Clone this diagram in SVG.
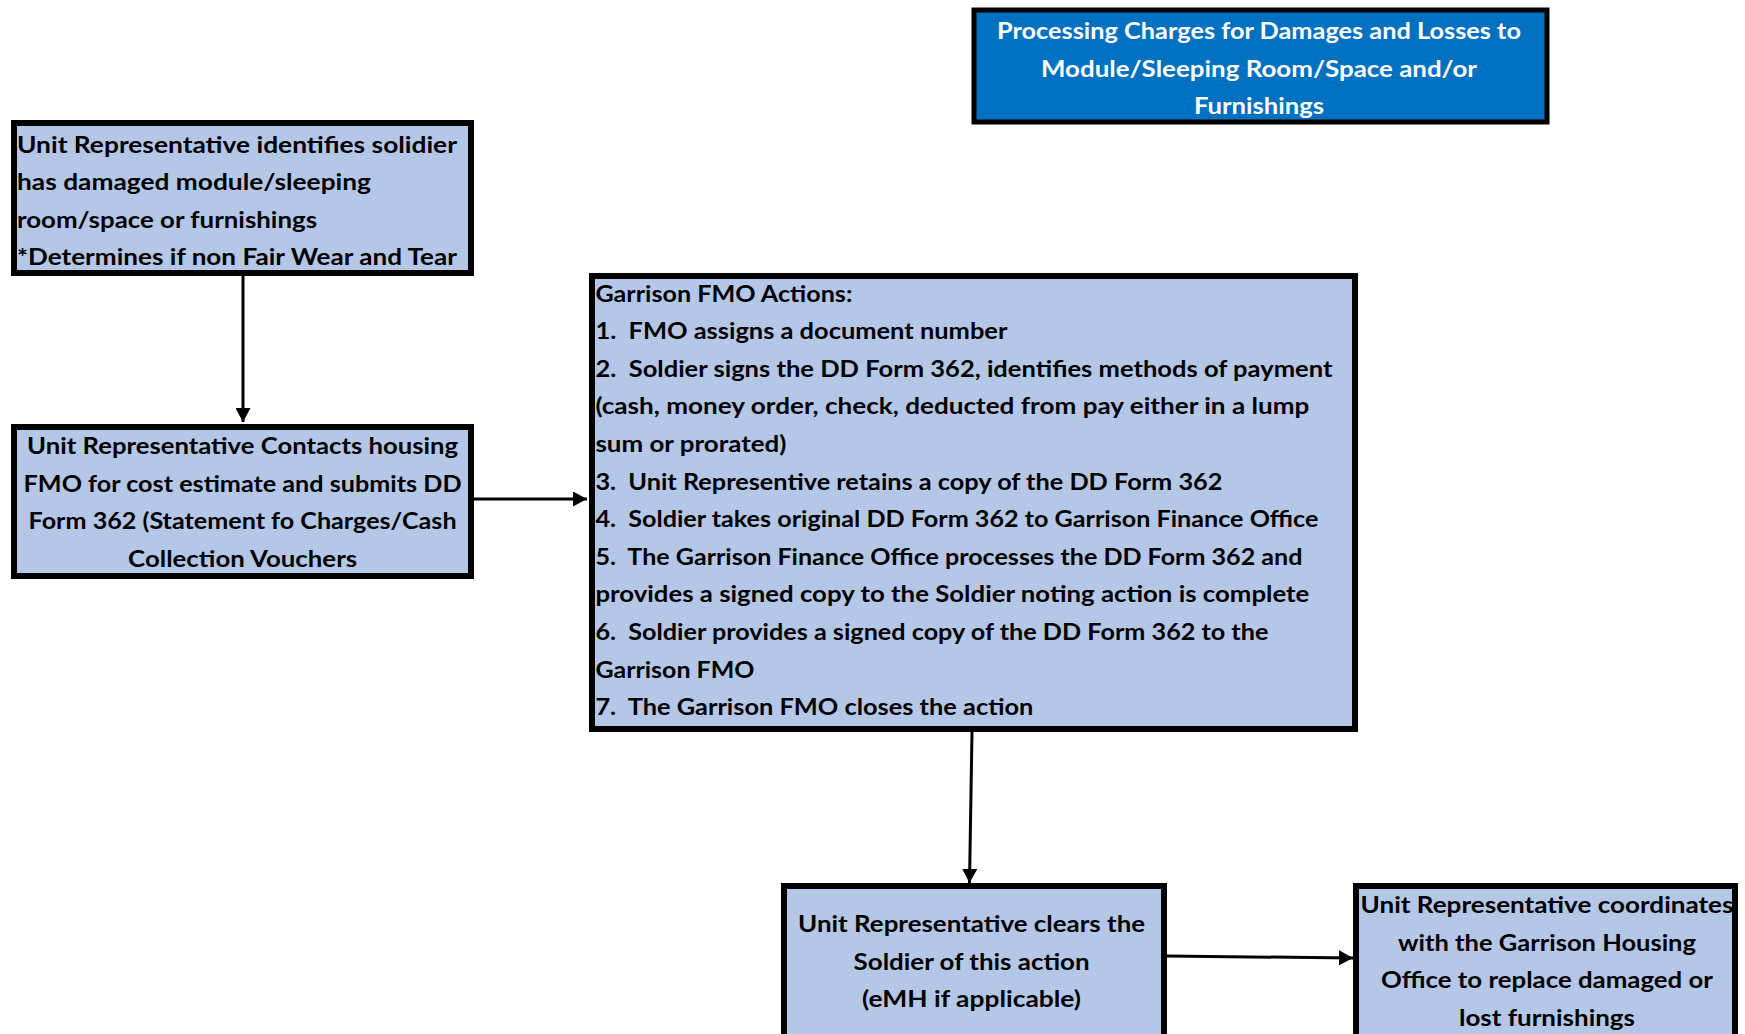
<svg xmlns="http://www.w3.org/2000/svg" width="1745" height="1034" viewBox="0 0 1745 1034">
<defs>
<style>
.box{fill:#B4C7E7;stroke:#000;stroke-width:6}
.title{fill:#0070C0;stroke:#000;stroke-width:5}
text{font-family:Lato,"Liberation Sans",Arial,sans-serif;font-weight:bold;font-size:22px;fill:#000}
.w{fill:#fff}
.c{text-anchor:middle}
.conn{stroke:#000;stroke-width:3;fill:none;marker-end:url(#ah)}
</style>
<marker id="ah" markerUnits="userSpaceOnUse" markerWidth="14" markerHeight="15" refX="14" refY="7.5" orient="auto">
<path d="M0,0 L14,7.5 L0,15 z" fill="#000"/>
</marker>
</defs>
<rect width="1745" height="1034" fill="#fff"/>

<g id="title">
<rect class="title" x="974" y="10" width="573" height="112"/>
<text class="w c" x="1259" y="39" textLength="524" lengthAdjust="spacingAndGlyphs">Processing Charges for Damages and Losses to</text>
<text class="w c" x="1259" y="76.5" textLength="436" lengthAdjust="spacingAndGlyphs">Module/Sleeping Room/Space and/or</text>
<text class="w c" x="1259" y="114" textLength="130" lengthAdjust="spacingAndGlyphs">Furnishings</text>
</g>

<g id="identify">
<rect class="box" x="14" y="123" width="457" height="150"/>
<text x="17" y="152.5" textLength="440" lengthAdjust="spacingAndGlyphs">Unit Representative identifies solidier</text>
<text x="17" y="190" textLength="354" lengthAdjust="spacingAndGlyphs">has damaged module/sleeping</text>
<text x="17" y="227.5" textLength="300" lengthAdjust="spacingAndGlyphs">room/space or furnishings</text>
<text x="17" y="265" textLength="440" lengthAdjust="spacingAndGlyphs">*Determines if non Fair Wear and Tear</text>
</g>

<g id="contacts">
<rect class="box" x="14" y="427" width="457" height="149"/>
<text class="c" x="242.6" y="454" textLength="431" lengthAdjust="spacingAndGlyphs">Unit Representative Contacts housing</text>
<text class="c" x="242.6" y="491.5" textLength="438" lengthAdjust="spacingAndGlyphs">FMO for cost estimate and submits DD</text>
<text class="c" x="242.6" y="529" textLength="428" lengthAdjust="spacingAndGlyphs">Form 362 (Statement fo Charges/Cash</text>
<text class="c" x="242.6" y="566.5" textLength="229" lengthAdjust="spacingAndGlyphs">Collection Vouchers</text>
</g>

<g id="fmo-actions">
<rect class="box" x="592" y="276" width="763" height="453"/>
<text x="595.4" y="301.6" textLength="257" lengthAdjust="spacingAndGlyphs">Garrison FMO Actions:</text>
<text x="595.4" y="339.2" textLength="412" lengthAdjust="spacingAndGlyphs" xml:space="preserve">1.  FMO assigns a document number</text>
<text x="595.4" y="376.8" textLength="737" lengthAdjust="spacingAndGlyphs" xml:space="preserve">2.  Soldier signs the DD Form 362, identifies methods of payment</text>
<text x="595.4" y="414.4" textLength="714" lengthAdjust="spacingAndGlyphs">(cash, money order, check, deducted from pay either in a lump</text>
<text x="595.4" y="452" textLength="191" lengthAdjust="spacingAndGlyphs">sum or prorated)</text>
<text x="595.4" y="489.6" textLength="627" lengthAdjust="spacingAndGlyphs" xml:space="preserve">3.  Unit Representive retains a copy of the DD Form 362</text>
<text x="595.4" y="527.2" textLength="723" lengthAdjust="spacingAndGlyphs" xml:space="preserve">4.  Soldier takes original DD Form 362 to Garrison Finance Office</text>
<text x="595.4" y="564.8" textLength="707" lengthAdjust="spacingAndGlyphs" xml:space="preserve">5.  The Garrison Finance Office processes the DD Form 362 and</text>
<text x="595.4" y="602.4" textLength="714" lengthAdjust="spacingAndGlyphs">provides a signed copy to the Soldier noting action is complete</text>
<text x="595.4" y="640" textLength="673" lengthAdjust="spacingAndGlyphs" xml:space="preserve">6.  Soldier provides a signed copy of the DD Form 362 to the</text>
<text x="595.4" y="677.6" textLength="159" lengthAdjust="spacingAndGlyphs">Garrison FMO</text>
<text x="595.4" y="715.2" textLength="438" lengthAdjust="spacingAndGlyphs" xml:space="preserve">7.  The Garrison FMO closes the action</text>
</g>

<g id="clears">
<rect class="box" x="784" y="886" width="380" height="160"/>
<text class="c" x="971.6" y="932" textLength="347" lengthAdjust="spacingAndGlyphs">Unit Representative clears the</text>
<text class="c" x="971.6" y="969.5" textLength="236" lengthAdjust="spacingAndGlyphs">Soldier of this action</text>
<text class="c" x="971.6" y="1007" textLength="219" lengthAdjust="spacingAndGlyphs">(eMH if applicable)</text>
</g>

<g id="coordinates">
<rect class="box" x="1356" y="886" width="379" height="160"/>
<text class="c" x="1547" y="913" textLength="373" lengthAdjust="spacingAndGlyphs">Unit Representative coordinates</text>
<text class="c" x="1547" y="950.5" textLength="298" lengthAdjust="spacingAndGlyphs">with the Garrison Housing</text>
<text class="c" x="1547" y="988" textLength="332" lengthAdjust="spacingAndGlyphs">Office to replace damaged or</text>
<text class="c" x="1547" y="1025.5" textLength="176" lengthAdjust="spacingAndGlyphs">lost furnishings</text>
</g>

<g id="connectors">
<line class="conn" x1="243" y1="276" x2="243" y2="422"/>
<line class="conn" x1="474" y1="499" x2="587" y2="499"/>
<line class="conn" x1="972" y1="732" x2="969.5" y2="883"/>
<line class="conn" x1="1167" y1="956" x2="1353" y2="958"/>
</g>
</svg>
